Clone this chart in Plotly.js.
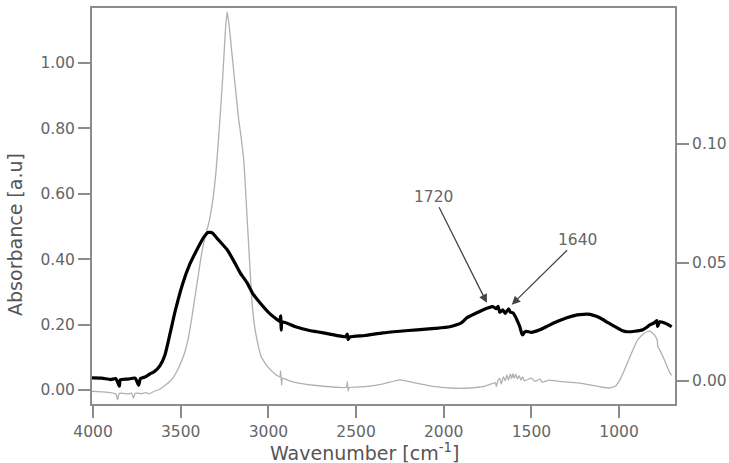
<!DOCTYPE html>
<html>
<head>
<meta charset="utf-8">
<script src="https://cdn.plot.ly/plotly-3.0.1.min.js"></script>
<style>html,body{margin:0;padding:0;background:#fff;}#chart{width:729px;height:463px;}</style>
</head>
<body>
<div id="chart"></div>
<script>
// Gray spectrum (left axis)
const grayWavenumber = [4006,3950,3900,3870,3860,3850,3800,3780,3770,3760,3720,3700,3680,3650,3620,3600,3570,3540,3510,3480,3460,3440,3420,3400,3380,3360,3340,3320,3300,3280,3260,3245,3236,3225,3210,3195,3180,3170,3155,3140,3125,3110,3095,3080,3060,3040,3000,2960,2935,2930,2925,2920,2880,2820,2700,2600,2555,2550,2545,2540,2450,2350,2250,2150,2050,1965,1900,1850,1777,1720,1705,1700,1690,1680,1672,1660,1648,1640,1630,1620,1612,1606,1598,1590,1580,1570,1560,1550,1540,1500,1480,1450,1440,1400,1350,1298,1224,1150,1100,1053,1020,996,970,939,915,894,860,840,825,805,790,782,778,770,757,740,725,711,700];
const grayAbs = [-0.004,-0.006,-0.008,-0.012,-0.03,-0.010,-0.012,-0.010,-0.025,-0.010,-0.011,-0.008,-0.012,-0.004,0.002,0.010,0.022,0.040,0.070,0.110,0.150,0.210,0.280,0.350,0.420,0.470,0.510,0.570,0.660,0.800,0.960,1.100,1.156,1.120,1.040,0.960,0.880,0.830,0.770,0.700,0.560,0.420,0.280,0.200,0.140,0.100,0.068,0.048,0.040,0.058,0.015,0.036,0.028,0.020,0.012,0.008,0.008,0.025,-0.003,0.007,0.010,0.018,0.031,0.020,0.010,0.006,0.005,0.006,0.010,0.020,0.022,0.010,0.030,0.035,0.018,0.040,0.028,0.046,0.030,0.049,0.035,0.050,0.036,0.048,0.033,0.044,0.030,0.040,0.028,0.036,0.026,0.033,0.024,0.030,0.027,0.024,0.021,0.014,0.009,0.006,0.012,0.030,0.060,0.100,0.130,0.153,0.172,0.178,0.180,0.172,0.162,0.150,0.130,0.125,0.110,0.090,0.070,0.052,0.045];

// Black spectrum (right axis)
const blackWavenumber = [4006,3950,3900,3870,3850,3845,3800,3760,3740,3730,3700,3675,3650,3618,3590,3561,3530,3487,3450,3407,3370,3345,3320,3290,3260,3236,3200,3160,3122,3090,3048,3000,2960,2935,2930,2927,2922,2850,2760,2723,2650,2560,2550,2545,2535,2450,2347,2250,2153,2050,1965,1900,1868,1820,1777,1750,1720,1700,1690,1680,1663,1650,1640,1630,1620,1606,1590,1575,1566,1555,1549,1540,1530,1500,1452,1400,1350,1298,1250,1224,1180,1150,1110,1060,1013,980,956,910,865,840,825,800,785,780,768,740,720,700];
const blackAbs = [0.0013,0.0012,0.0006,0.0010,-0.0022,0.0005,0.0008,0.0012,-0.0018,0.0010,0.0018,0.0030,0.0040,0.0065,0.0110,0.0200,0.0300,0.0415,0.0490,0.0555,0.0605,0.0627,0.0625,0.0600,0.0575,0.0555,0.0510,0.0455,0.0415,0.0370,0.0330,0.0290,0.0265,0.0252,0.0275,0.0215,0.0250,0.0230,0.0212,0.0208,0.0198,0.0187,0.0198,0.0175,0.0186,0.0192,0.0203,0.0210,0.0216,0.0222,0.0229,0.0245,0.0267,0.0285,0.0300,0.0308,0.0314,0.0305,0.0315,0.0290,0.0300,0.0285,0.0295,0.0305,0.0290,0.0288,0.0270,0.0245,0.0229,0.0200,0.0195,0.0205,0.0210,0.0205,0.0216,0.0235,0.0252,0.0267,0.0277,0.0280,0.0282,0.0278,0.0267,0.0245,0.0225,0.0212,0.0208,0.0210,0.0216,0.0228,0.0237,0.0245,0.0255,0.0230,0.0250,0.0245,0.0238,0.0229];

const xTicks = [1000,1500,2000,2500,3000,3500,4000];
const yTicks = [0,0.2,0.4,0.6,0.8,1.0];
const y2Ticks = [0,0.05,0.10];

const axisColor = '#8c8c8c';
const tickFont = {family:'DejaVu Sans', size:15.5, color:'#666'};

const traces = [
  {x: grayWavenumber, y: grayAbs, type:'scatter', mode:'lines', line:{color:'#b0b0b0', width:1.3, shape:'spline', smoothing:0.4}, yaxis:'y', showlegend:false, hoverinfo:'skip'},
  {x: blackWavenumber, y: blackAbs, type:'scatter', mode:'lines', line:{color:'#000', width:3.2, shape:'spline', smoothing:0.5}, yaxis:'y2', showlegend:false, hoverinfo:'skip'}
];

const commonAxis = {showline:true, linecolor:axisColor, linewidth:2, ticks:'outside', ticklen:12, tickwidth:2, tickcolor:axisColor, tickfont:tickFont, showgrid:false, zeroline:false};

const layout = {
  width:729, height:463,
  margin:{l:92, r:54, t:8, b:59},
  paper_bgcolor:'#fff', plot_bgcolor:'#fff',
  xaxis: Object.assign({}, commonAxis, {range:[4006,681], tickvals:xTicks, ticktext:xTicks.map(String), mirror:true}),
  yaxis: Object.assign({}, commonAxis, {range:[-0.043,1.168], tickvals:yTicks, tickformat:'.2f', mirror:true}),
  yaxis2: Object.assign({}, commonAxis, {range:[-0.0097,0.1574], tickvals:y2Ticks, tickformat:'.2f', overlaying:'y', side:'right'}),
  annotations: [
    {text:'Wavenumber [cm<sup>-1</sup>]', xref:'paper', yref:'paper', x:0.467, y:-0.121, showarrow:false, xanchor:'center', yanchor:'middle', font:{family:'DejaVu Sans', size:19, color:'#555'}},
    {text:'Absorbance [a.u]', xref:'paper', yref:'paper', x:-0.132, y:0.427, textangle:-90, showarrow:false, xanchor:'center', yanchor:'middle', font:{family:'DejaVu Sans', size:19, color:'#555'}},
    {text:'1720', xref:'x', yref:'y2', x:1754, y:0.033, ax:-53, ay:-106, showarrow:true, arrowhead:2, arrowsize:1.3, arrowwidth:1.3, arrowcolor:'#444', font:{family:'DejaVu Sans', size:15.5, color:'#666'}},
    {text:'1640', xref:'x', yref:'y2', x:1612, y:0.0322, ax:66, ay:-65, showarrow:true, arrowhead:2, arrowsize:1.3, arrowwidth:1.3, arrowcolor:'#444', font:{family:'DejaVu Sans', size:15.5, color:'#666'}}
  ]
};

Plotly.newPlot('chart', traces, layout, {displayModeBar:false, staticPlot:true});
</script>
</body>
</html>
